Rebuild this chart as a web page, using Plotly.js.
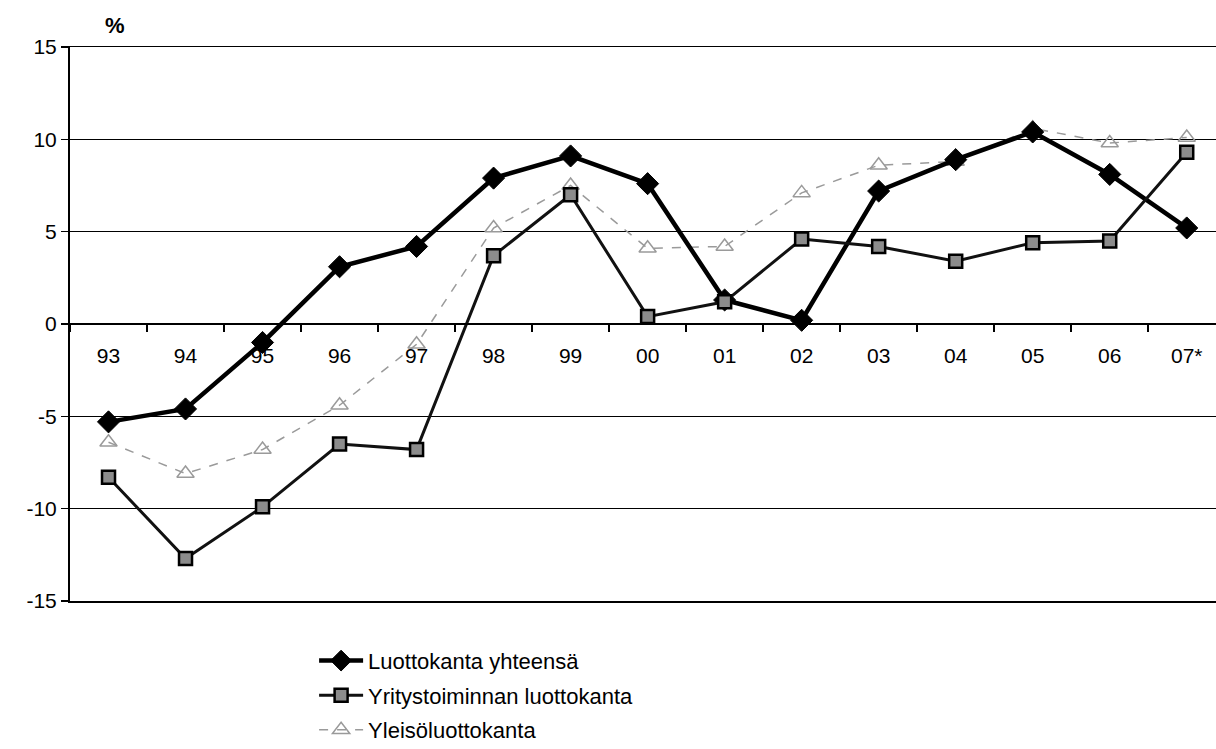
<!DOCTYPE html>
<html>
<head>
<meta charset="utf-8">
<script src="https://cdn.plot.ly/plotly-3.0.1.min.js"></script>
<style>html,body{margin:0;padding:0;background:#fff;overflow:hidden}#chart{width:1216px;height:749px}</style>
</head>
<body>
<div id="chart"></div>
<script>
const years = ["93","94","95","96","97","98","99","00","01","02","03","04","05","06","07*"];
const luottokantaYhteensa = [-5.3,-4.6,-1.0,3.1,4.2,7.9,9.1,7.6,1.3,0.2,7.2,8.9,10.4,8.1,5.2];
const yritystoiminnanLuottokanta = [-8.3,-12.7,-9.9,-6.5,-6.8,3.7,7.0,0.4,1.2,4.6,4.2,3.4,4.4,4.5,9.3];
const yleisoluottokanta = [-6.4,-8.1,-6.8,-4.4,-1.1,5.2,7.5,4.1,4.2,7.1,8.6,8.8,10.6,9.8,10.1];
const seriesNames = ["Luottokanta yhteensä","Yritystoiminnan luottokanta","Yleisöluottokanta"];
const yTickValues = [-15,-10,-5,0,5,10,15];
const yTickLabels = ["-15","-10","-5","0","5","10","15"];

const font = "Liberation Sans, Arial, sans-serif";

const traces = [
  {
    x: years, y: yleisoluottokanta, name: seriesNames[2], type: "scatter", mode: "lines+markers",
    legendgroup: "c", legendrank: 3,
    line: {color: "#9a9a9a", width: 1.5, dash: "dash"},
    marker: {symbol: "triangle-up-open", size: 15, color: "#9a9a9a", line: {color: "#9a9a9a", width: 1.5}}
  },
  {
    x: years, y: luottokantaYhteensa, name: seriesNames[0], type: "scatter", mode: "lines+markers",
    legendgroup: "a", legendrank: 1,
    line: {color: "#000", width: 4.5},
    marker: {symbol: "diamond", size: 17, color: "#000", line: {color: "#000", width: 1}}
  },
  {
    x: years, y: yritystoiminnanLuottokanta, name: seriesNames[1], type: "scatter", mode: "lines+markers",
    legendgroup: "b", legendrank: 2,
    line: {color: "#111", width: 3},
    marker: {symbol: "square", size: 13, color: "#8c8c8c", line: {color: "#000", width: 2.5}}
  },
  {
    // frame helper: gives the mirrored top/bottom border axis a subplot
    x: [null], y: [null], xaxis: "x2", yaxis: "y", type: "scatter", mode: "markers",
    showlegend: false, hoverinfo: "skip"
  }
];

const layout = {
  width: 1216, height: 749,
  margin: {l: 70, r: 0, t: 47, b: 148, autoexpand: false},
  paper_bgcolor: "#fff", plot_bgcolor: "#fff",
  font: {family: font, size: 20, color: "#000"},
  showlegend: true,
  legend: {
    x: 0.213, xanchor: "left", y: -0.07, yanchor: "top",
    orientation: "v", traceorder: "grouped",
    font: {family: font, size: 22, color: "#000"},
    itemwidth: 44, tracegroupgap: 3, bgcolor: "rgba(0,0,0,0)"
  },
  xaxis: {
    type: "category",
    range: [-0.5, 14.38],
    anchor: "free", position: 0.5,
    showline: true, linecolor: "#000", linewidth: 2,
    ticks: "outside", ticklen: 7, tickwidth: 1.5, tickcolor: "#000",
    tickson: "boundaries",
    ticklabelstandoff: 13,
    showgrid: false, zeroline: false,
    tickfont: {family: font, size: 21, color: "#000"},
    fixedrange: true
  },
  xaxis2: {
    overlaying: "x", anchor: "y", side: "bottom",
    showline: true, mirror: true, linecolor: "#000", linewidth: 1.5,
    showticklabels: false, ticks: "", showgrid: false, zeroline: false,
    range: [0, 1], fixedrange: true
  },
  yaxis: {
    range: [-15, 15],
    tickmode: "array", tickvals: yTickValues, ticktext: yTickLabels,
    showline: true, linecolor: "#000", linewidth: 2,
    ticks: "outside", ticklen: 7, tickwidth: 1.5, tickcolor: "#000",
    showgrid: true, gridcolor: "#000", gridwidth: 1.5,
    zeroline: true, zerolinecolor: "#000", zerolinewidth: 2,
    tickfont: {family: font, size: 21, color: "#000"},
    fixedrange: true
  },
  annotations: [
    {text: "<b>%</b>", xref: "paper", yref: "paper", x: 0.039, y: 1.012, xanchor: "center", yanchor: "bottom",
     showarrow: false, font: {family: font, size: 22, color: "#000"}}
  ]
};

Plotly.newPlot("chart", traces, layout, {displayModeBar: false, staticPlot: true});
</script>
</body>
</html>
